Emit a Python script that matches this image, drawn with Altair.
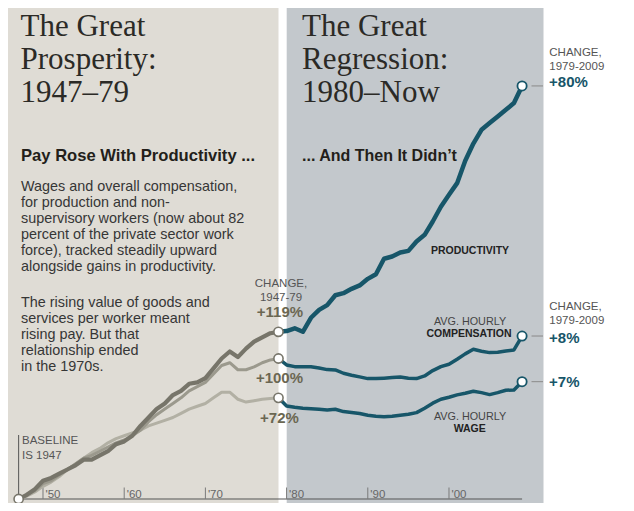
import altair as alt
import pandas as pd

# ---------------- data (index: % above 1947 level) ----------------
years_pre = list(range(1947, 1980))
years_post = list(range(1979, 2010))

prod_pre = [0, 3, 7, 13, 15, 18, 21, 24, 28, 28, 31, 34, 39, 41, 45, 52, 58, 64, 68, 74,
            77, 82, 83, 86, 93, 100, 105, 101, 107, 112, 115, 118, 119]
comp_pre = [0, 3, 6, 11, 13, 17, 21, 25, 29, 31, 34, 37, 40, 42, 45, 49, 55, 60, 64, 68,
            72, 77, 80, 83, 89, 95, 97, 92, 92, 94, 97, 99, 100]
wage_pre = [0, 2, 5, 9, 12, 16, 21, 25, 29, 33, 36, 40, 43, 45, 47, 49, 52, 54, 56, 58,
            61, 64, 66, 68, 72, 76, 76, 71, 69, 70, 71, 71.5, 72]

prod_post = [119, 119.5, 121.5, 119, 129, 134.6, 138, 145, 146.5, 149.6, 152, 156.7, 160,
             171, 172.6, 175.4, 176.6, 183.3, 188, 197.5, 208, 216.5, 224.8, 240.7, 253,
             262.8, 267.6, 272.3, 277, 281.8, 294]
comp_post = [100, 95.4, 94.2, 94.2, 94.2, 93.3, 92.1, 91.9, 89.5, 88.1, 86.9, 85.7, 85.7,
             86, 86.4, 86.9, 86, 85.7, 87.6, 91.4, 94.2, 95.9, 99.5, 103.3, 106.6, 105.2,
             104.2, 104.5, 105.4, 106.1, 116]
wage_post = [72, 66.2, 65.3, 64.6, 64.3, 63.9, 63.4, 63.9, 62.2, 61.5, 60.8, 59.6, 58.9,
             58.6, 58.9, 59.6, 60.3, 61.5, 64.6, 68.2, 71, 72.4, 74.1, 75.3, 76.7, 75.7,
             74.3, 75.7, 77.4, 77.6, 83.5]

decades = [1950, 1960, 1970, 1980, 1990, 2000]
decade_labels = ["'50", "'60", "'70", "'80", "'90", "'00"]

series_names = ["prod", "comp", "wage"]
change_pre_labels = ["+119%", "+100%", "+72%"]
change_post_labels = ["+80%", "+8%", "+7%"]

# ---------------- tables ----------------
rows = []
for s, pre, post in [("prod", prod_pre, prod_post), ("comp", comp_pre, comp_post),
                     ("wage", wage_pre, wage_post)]:
    for yr, v in zip(years_pre, pre):
        rows.append({"series": s, "era": "pre", "year": yr, "value": v})
    for yr, v in zip(years_post, post):
        rows.append({"series": s, "era": "post", "year": yr, "value": v})
df = pd.DataFrame(rows)

ends_pre = pd.DataFrame({"series": series_names, "year": [years_pre[-1]] * 3,
                         "value": [prod_pre[-1], comp_pre[-1], wage_pre[-1]],
                         "label": change_pre_labels})
ends_post = pd.DataFrame({"series": series_names, "year": [years_post[-1]] * 3,
                          "value": [prod_post[-1], comp_post[-1], wage_post[-1]],
                          "label": change_post_labels})
start = pd.DataFrame({"year": [years_pre[0]], "value": [prod_pre[0]]})
axis_df = pd.DataFrame({"x0": [years_pre[0]], "x1": [years_post[-1]], "v": [0]})
dec_df = pd.DataFrame({"year": decades, "label": decade_labels})
one = pd.DataFrame({"k": [0]})

W, H = 618, 495
XS = alt.Scale(domain=[1945.69, 2021.80], nice=False, zero=False)
YS = alt.Scale(domain=[-2.847, 349.47], nice=False, zero=False)

GREY_D = "#77756a"
GREY_M = "#9b998d"
GREY_L = "#b2b0a4"
TEAL = "#175669"
OLIVE = "#6b6752"
SANS = "Liberation Sans"
SERIF = "Liberation Serif"

def P(v):  # page pixel -> chart pixel
    return v - 8

layers = []

# panel backgrounds
layers.append(alt.Chart(one).mark_rect(color="#dfdcd5").encode(
    x=alt.value(0), x2=alt.value(P(278.5)), y=alt.value(0), y2=alt.value(H)))
layers.append(alt.Chart(one).mark_rect(color="#c3c8cc").encode(
    x=alt.value(P(286.7)), x2=alt.value(P(543.5)), y=alt.value(0), y2=alt.value(H)))

# axis line, ticks, labels
layers.append(alt.Chart(axis_df).mark_rule(color="#555555", strokeWidth=1.2).encode(
    x=alt.X("x0:Q", scale=XS, axis=None), x2="x1:Q",
    y=alt.Y("v:Q", scale=YS, axis=None)))
layers.append(alt.Chart(dec_df).mark_rule(color="#7a7a7a", strokeWidth=1).encode(
    x=alt.X("year:Q", scale=XS, axis=None), y=alt.value(P(487.5)), y2=alt.value(P(499))))
layers.append(alt.Chart(dec_df).mark_text(
    align="left", baseline="alphabetic", dx=2.5, font=SANS, fontSize=11.5, color="#666666"
).encode(x=alt.X("year:Q", scale=XS, axis=None), y=alt.value(P(497.5)), text="label:N"))

# baseline marker
layers.append(alt.Chart(start).mark_rule(color="#555555", strokeWidth=1).encode(
    x=alt.X("year:Q", scale=XS, axis=None), y=alt.value(P(435)), y2=alt.value(P(499))))

# lines
line_specs = [
    ("wage", "pre", GREY_L, 3), ("comp", "pre", GREY_M, 3), ("prod", "pre", GREY_D, 4.2),
    ("wage", "post", TEAL, 3.5), ("comp", "post", TEAL, 3.5), ("prod", "post", TEAL, 4.5),
]
for s, e, c, w in line_specs:
    layers.append(alt.Chart(df).transform_filter(
        f"datum.series == '{s}' && datum.era == '{e}'"
    ).mark_line(color=c, strokeWidth=w, strokeJoin="round", strokeCap="round").encode(
        x=alt.X("year:Q", scale=XS, axis=None),
        y=alt.Y("value:Q", scale=YS, axis=None)))

# connector rules to 2009 labels
layers.append(alt.Chart(ends_post).mark_rule(color="#8a8a8a", strokeWidth=1).encode(
    x=alt.value(P(531.5)), x2=alt.value(P(543)),
    y=alt.Y("value:Q", scale=YS, axis=None)))

# end circles
layers.append(alt.Chart(start).mark_circle(size=85, color="white", opacity=1,
                                           stroke=GREY_D, strokeWidth=1.6).encode(
    x=alt.X("year:Q", scale=XS, axis=None), y=alt.Y("value:Q", scale=YS, axis=None)))
layers.append(alt.Chart(ends_pre).mark_circle(size=85, color="white", opacity=1,
                                              stroke=GREY_D, strokeWidth=1.6).encode(
    x=alt.X("year:Q", scale=XS, axis=None), y=alt.Y("value:Q", scale=YS, axis=None)))
layers.append(alt.Chart(ends_post).mark_circle(size=85, color="white", opacity=1,
                                               stroke=TEAL, strokeWidth=1.8).encode(
    x=alt.X("year:Q", scale=XS, axis=None), y=alt.Y("value:Q", scale=YS, axis=None)))

# change labels tied to end points
def end_label(frame, s, dx, dy, color, align):
    return alt.Chart(frame).transform_filter(f"datum.series == '{s}'").mark_text(
        align=align, baseline="alphabetic", dx=dx, dy=dy, font=SANS, fontSize=15,
        fontWeight="bold", color=color
    ).encode(x=alt.X("year:Q", scale=XS, axis=None),
             y=alt.Y("value:Q", scale=YS, axis=None), text="label:N")

layers.append(end_label(ends_pre, "prod", 1.5, -15.3, OLIVE, "center"))
layers.append(end_label(ends_pre, "comp", 1.0, 24.0, OLIVE, "center"))
layers.append(end_label(ends_pre, "wage", 1.0, 25.2, OLIVE, "center"))
layers.append(end_label(ends_post, "prod", 27, 1.5, TEAL, "left"))
layers.append(end_label(ends_post, "comp", 27, 6.5, TEAL, "left"))
layers.append(end_label(ends_post, "wage", 27, 5.3, TEAL, "left"))

# free text
def txt(s, x, y, size, weight="normal", color="#333333", font=SANS, align="left", lh=None):
    kw = dict(text=s, align=align, baseline="alphabetic", font=font, fontSize=size,
              fontWeight=weight, color=color)
    if lh is not None:
        kw["lineBreak"] = "\n"
        kw["lineHeight"] = lh
    return alt.Chart(one).mark_text(**kw).encode(x=alt.value(P(x)), y=alt.value(P(y)))

TITLE_C = "#2b2a26"
layers.append(txt("The Great\nProsperity:\n1947–79", 20.5, 36, 31, color=TITLE_C,
                  font=SERIF, lh=33))
layers.append(txt("The Great\nRegression:\n1980–Now", 302, 35.5, 31, color=TITLE_C,
                  font=SERIF, lh=33))
layers.append(txt("Pay Rose With Productivity ...", 21, 160.5, 16.6, weight="bold",
                  color="#231f1a"))
layers.append(txt("... And Then It Didn’t", 302, 160.5, 16, weight="bold", color="#231f1a"))

body1 = ("Wages and overall compensation,\nfor production and non-\n"
         "supervisory workers (now about 82\npercent of the private sector work\n"
         "force), tracked steadily upward\nalongside gains in productivity.")
body2 = ("The rising value of goods and\nservices per worker meant\nrising pay. But that\n"
         "relationship ended\nin the 1970s.")
layers.append(txt(body1, 21, 190.5, 14.4, color="#363636", lh=16))
layers.append(txt(body2, 21, 306.5, 14.4, color="#363636", lh=16))

layers.append(txt("CHANGE,\n1947-79", 281, 286.5, 11.5, color="#555555", align="center", lh=14.2))
layers.append(txt("CHANGE,\n1979-2009", 549.3, 55.5, 11.5, color="#555555", lh=14))
layers.append(txt("CHANGE,\n1979-2009", 549.3, 309.5, 11.5, color="#555555", lh=14.5))

layers.append(txt("BASELINE\nIS 1947", 22, 444, 11.5, color="#555555", lh=15))

layers.append(txt("PRODUCTIVITY", 470, 254, 10.5, weight="bold", color="#222222",
                  align="center"))
layers.append(txt("AVG. HOURLY", 470, 325, 10.8, color="#444444", align="center"))
layers.append(txt("COMPENSATION", 469, 337.3, 10.5, weight="bold", color="#222222",
                  align="center"))
layers.append(txt("AVG. HOURLY", 470, 420, 10.8, color="#444444", align="center"))
layers.append(txt("WAGE", 469.7, 432, 10.5, weight="bold", color="#222222", align="center"))

chart = alt.layer(*layers).properties(
    width=W, height=H, padding=0, autosize=alt.AutoSizeParams(type="none"),
    background="white"
).configure_view(stroke=None)

chart.save("out.html", embed_options={"renderer": "svg", "actions": False})
